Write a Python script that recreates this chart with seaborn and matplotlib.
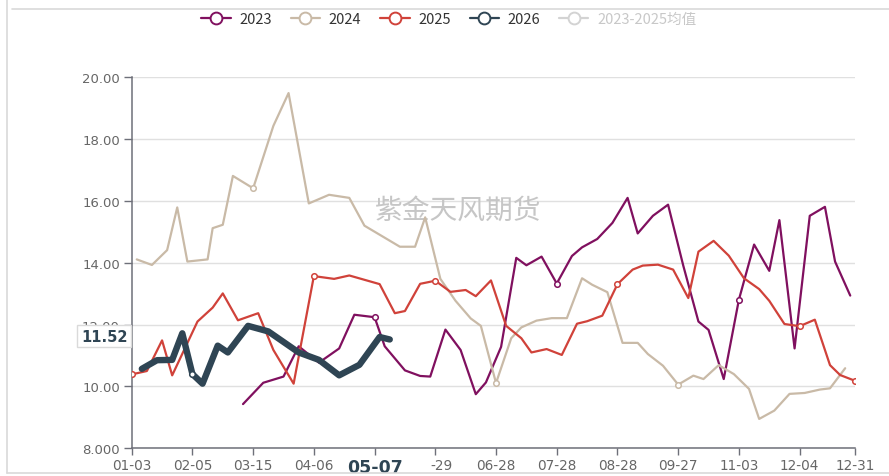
import matplotlib
matplotlib.use("Agg")
import matplotlib.pyplot as plt
import matplotlib.transforms as mtransforms
from matplotlib.lines import Line2D
import pandas as pd
import seaborn as sns

# ---- data -------------------------------------------------------------
N_CAT = 144
tick_pos = [0, 12, 24, 36, 48, 60, 72, 84, 96, 108, 120, 132, 143]
tick_labels = ["01-03", "02-05", "03-15", "04-06", "05-07", "-29", "06-28",
               "07-28", "08-28", "09-27", "11-03", "12-04", "12-31"]
y_ticks = [8, 10, 12, 14, 16, 18, 20]
y_tick_labels = ["8.000", "10.00", "12.00", "14.00", "16.00", "18.00", "20.00"]

x2023 = [22, 26, 30, 33, 37, 41, 44, 48, 50, 54, 57, 59, 62, 65, 68, 70, 73,
         76, 78, 81, 84, 87, 89, 92, 95, 98, 100, 103, 106, 109, 112, 114,
         117, 120, 123, 126, 128, 131, 134, 137, 139, 142]
y2023 = [9.43, 10.12, 10.32, 11.30, 10.77, 11.23, 12.32, 12.24, 11.30, 10.52,
         10.34, 10.32, 11.84, 11.18, 9.75, 10.13, 11.28, 14.16, 13.92, 14.20,
         13.33, 14.22, 14.50, 14.77, 15.29, 16.10, 14.95, 15.52, 15.88, 13.91,
         12.10, 11.83, 10.24, 12.81, 14.59, 13.74, 15.38, 11.23, 15.52, 15.81,
         14.04, 12.94]

x2024 = [1, 4, 7, 9, 11, 15, 16, 18, 20, 24, 28, 31, 35, 39, 43, 46, 53, 56,
         58, 61, 64, 67, 69, 72, 75, 77, 80, 83, 86, 89, 91, 94, 97, 100, 102,
         105, 108, 111, 113, 116, 119, 122, 124, 127, 130, 133, 136, 138, 141]
y2024 = [14.11, 13.93, 14.41, 15.79, 14.04, 14.11, 15.12, 15.23, 16.81, 16.41,
         18.43, 19.49, 15.92, 16.20, 16.10, 15.20, 14.52, 14.52, 15.47, 13.48,
         12.77, 12.20, 11.96, 10.11, 11.56, 11.91, 12.13, 12.21, 12.21, 13.50,
         13.29, 13.05, 11.41, 11.41, 11.05, 10.67, 10.06, 10.35, 10.24, 10.69,
         10.40, 9.92, 8.95, 9.22, 9.76, 9.79, 9.90, 9.94, 10.59]

x2025 = [0, 3, 6, 8, 13, 16, 18, 21, 25, 28, 32, 36, 40, 43, 49, 52, 54, 57,
         60, 63, 66, 68, 71, 74, 77, 79, 82, 85, 88, 90, 93, 96, 99, 101, 104,
         107, 110, 112, 115, 118, 121, 124, 126, 129, 132, 135, 138, 140, 143]
y2025 = [10.39, 10.50, 11.49, 10.36, 12.10, 12.55, 13.01, 12.14, 12.37, 11.18,
         10.09, 13.57, 13.48, 13.59, 13.31, 12.37, 12.44, 13.32, 13.42, 13.06,
         13.12, 12.92, 13.43, 11.96, 11.56, 11.10, 11.21, 11.02, 12.03, 12.11,
         12.29, 13.31, 13.78, 13.91, 13.94, 13.78, 12.86, 14.36, 14.71, 14.23,
         13.50, 13.15, 12.77, 12.02, 11.95, 12.16, 10.69, 10.37, 10.18]

x2026 = [2, 5, 8, 10, 12, 14, 17, 19, 23, 27, 33, 37, 41, 45, 49, 51]
y2026 = [10.57, 10.85, 10.86, 11.72, 10.40, 10.09, 11.32, 11.10, 11.96, 11.78,
         11.10, 10.86, 10.36, 10.70, 11.60, 11.52]

legend_names = ["2023", "2024", "2025", "2026", "2023-2025均值"]
colors = ["#80105f", "#c9baa7", "#d0423a", "#2f4554", "#d3d3d3"]
widths = [1.6, 1.6, 1.6, 4.6]

# ---- figure -----------------------------------------------------------
sns.set_theme(style="white")
plt.rcParams["font.family"] = ["DejaVu Sans", "Noto Sans CJK SC"]

fig = plt.figure(figsize=(8.89, 4.77), dpi=100)
ax = fig.add_axes([131.7 / 889, 1 - 449.3 / 477, 723.6 / 889, 371.0 / 477])

series = [(x2023, y2023), (x2024, y2024), (x2025, y2025), (x2026, y2026)]
for i, (xs, ys) in enumerate(series):
    df = pd.DataFrame({"idx": xs, "value": ys})
    sns.lineplot(data=df, x="idx", y="value", ax=ax, color=colors[i],
                 lw=widths[i], sort=False, estimator=None, zorder=3 + i,
                 legend=False)
    marked = df[df["idx"].isin(tick_pos)]
    if len(marked):
        sns.scatterplot(data=marked, x="idx", y="value", ax=ax, s=16,
                        facecolor="white", edgecolor=colors[i], linewidth=1.1,
                        zorder=3.5 + i, legend=False)

ax.set_xlim(0, N_CAT - 1)
ax.set_ylim(8, 20)
ax.set_xlabel("")
ax.set_ylabel("")

ax.set_yticks(y_ticks)
ax.set_yticklabels(y_tick_labels)
ax.set_xticks(tick_pos)
ax.set_xticklabels(tick_labels)

axis_col = "#6e7079"
ax.tick_params(axis="y", which="both", left=True, length=6, width=1,
               color=axis_col, labelsize=9.5, labelcolor="#666666", pad=2.5)
ax.tick_params(axis="x", which="both", bottom=True, length=5, width=1,
               color=axis_col, labelsize=9.8, labelcolor="#666666", pad=2)

for name, sp in ax.spines.items():
    if name in ("left", "bottom"):
        sp.set_color(axis_col)
        sp.set_linewidth(1.1)
    else:
        sp.set_visible(False)

ax.yaxis.grid(True, color="#e0e0e0", lw=1)
ax.xaxis.grid(False)
ax.set_axisbelow(True)

# highlighted x label and shifted neighbour
xt = ax.get_xticklabels()
xt[4].set_fontweight("bold")
xt[4].set_fontsize(12.5)
xt[4].set_color("#2f4554")
shift = mtransforms.ScaledTranslation(6 / 100, 0, fig.dpi_scale_trans)
xt[5].set_transform(xt[5].get_transform() + shift)

# current-value label on the y axis
blend = mtransforms.blended_transform_factory(ax.transAxes, ax.transData)
ax.annotate(f"{y2026[-1]:.2f}", xy=(-0.006, y2026[-1]), xycoords=blend,
            xytext=(0, 2.5), textcoords="offset points",
            ha="right", va="center", fontsize=10.5, fontweight="bold",
            color="#2f4554", zorder=20, annotation_clip=False,
            bbox=dict(boxstyle="square,pad=0.27", fc="white", ec="#dadada",
                      lw=1))

# watermark
ax.text(0.451, 0.642, "紫金天风期货", transform=ax.transAxes, ha="center",
        va="center", fontsize=20, color="#c6c6c6",
        family=["Noto Sans CJK SC", "DejaVu Sans"], zorder=1)

# legend
handles = [Line2D([], [], color=c, lw=1.6, marker="o", markersize=8.5,
                  markerfacecolor="white", markeredgewidth=1.4)
           for c in colors]
leg = fig.legend(handles, legend_names, loc="center",
                 bbox_to_anchor=(0.505, 1 - 20 / 477), ncol=5, frameon=False,
                 handlelength=2.0, handletextpad=0.6, columnspacing=1.3,
                 prop={"family": ["Noto Sans CJK SC", "DejaVu Sans"],
                       "size": 10.5})
for j, t in enumerate(leg.get_texts()):
    t.set_color("#c8c8c8" if j == 4 else "#333333")

# outer frame lines
frame_col = "#d9d9d9"
fig.add_artist(Line2D([7 / 889, 7 / 889], [1 - 474 / 477, 1.0],
                      transform=fig.transFigure, color=frame_col, lw=1.2))
fig.add_artist(Line2D([7 / 889, 1.0], [1 - 474 / 477, 1 - 474 / 477],
                      transform=fig.transFigure, color=frame_col, lw=1.2))
fig.add_artist(Line2D([12 / 889, 1.0], [1 - 10 / 477, 1 - 10 / 477],
                      transform=fig.transFigure, color=frame_col, lw=1.2))

fig.savefig("out.png", dpi=100)
